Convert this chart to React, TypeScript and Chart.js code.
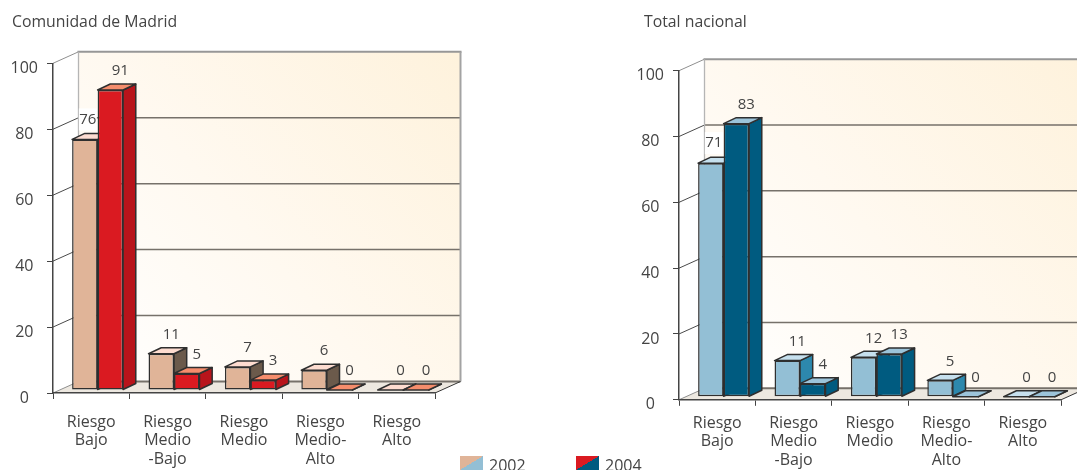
import React, { useEffect, useRef } from "react";
import { Chart, registerables } from "chart.js";

Chart.register(...registerables);

const FONT = '"Open Sans", sans-serif';
const TEXT = "#444444";

const categories = [
  ["Riesgo", "Bajo"],
  ["Riesgo", "Medio", "-Bajo"],
  ["Riesgo", "Medio"],
  ["Riesgo", "Medio-", "Alto"],
  ["Riesgo", "Alto"],
];
const yTicks = [0, 20, 40, 60, 80, 100];
const seriesNames = ["2002", "2004"];

const madrid2002 = [76, 11, 7, 6, 0];
const madrid2004 = [91, 5, 3, 0, 0];
const nacional2002 = [71, 11, 12, 5, 0];
const nacional2004 = [83, 4, 13, 0, 0];

const madridTitle = "Comunidad de Madrid";
const nacionalTitle = "Total nacional";

const madridFaces = [
  { front: "#e0b498", top: "#fddcd0", side: "#6b5a4b" },
  { front: "#da1a21", top: "#f58d6c", side: "#b8141b" },
];
const nacionalFaces = [
  { front: "#93bfd5", top: "#c6e0ee", side: "#2d88ad" },
  { front: "#005b80", top: "#9cc4da", side: "#005b80" },
];

// geometry of the fake 3D
const WALL_DX = 25.5;
const WALL_DY = 11.5;
const BAR_SHIFT_X = 6.4;
const BAR_SHIFT_Y = 3;
const BAR_DX = 12.7;
const BAR_DY = 6;
const EDGE = "#2f2f2f";
const EDGE_W = 1.5;

function poly(ctx: CanvasRenderingContext2D, pts: number[][]) {
  ctx.beginPath();
  pts.forEach((p, i) => (i ? ctx.lineTo(p[0], p[1]) : ctx.moveTo(p[0], p[1])));
  ctx.closePath();
}
function line(ctx: CanvasRenderingContext2D, x0: number, y0: number, x1: number, y1: number, color: string, w: number) {
  ctx.strokeStyle = color;
  ctx.lineWidth = w;
  ctx.beginPath();
  ctx.moveTo(x0, y0);
  ctx.lineTo(x1, y1);
  ctx.stroke();
}

function drawFaces(ctx: CanvasRenderingContext2D, meta: any, faces: any) {
  meta.data.forEach((el: any) => {
    const { x, y, base, width } = el.getProps(["x", "y", "base", "width"]);
    const x0 = x - width / 2;
    const x1 = x + width / 2;
    ctx.lineWidth = EDGE_W;
    ctx.strokeStyle = EDGE;
    ctx.lineJoin = "round";
    poly(ctx, [
      [x1, y],
      [x1 + BAR_DX, y - BAR_DY],
      [x1 + BAR_DX, base - BAR_DY],
      [x1, base],
    ]);
    ctx.fillStyle = faces.side;
    ctx.fill();
    ctx.stroke();
    poly(ctx, [
      [x0, y],
      [x0 + BAR_DX, y - BAR_DY],
      [x1 + BAR_DX, y - BAR_DY],
      [x1, y],
    ]);
    ctx.fillStyle = faces.top;
    ctx.fill();
    ctx.stroke();
  });
}

function drawLabels(ctx: CanvasRenderingContext2D, meta: any, values: number[], partner: number[], first: boolean) {
  ctx.font = `15px ${FONT}`;
  ctx.textAlign = "center";
  ctx.textBaseline = "middle";
  meta.data.forEach((el: any, i: number) => {
    const { x, y } = el.getProps(["x", "y"]);
    const hidden = first && partner[i] - values[i] >= 10;
    const lx = x + (hidden ? 3 : 10);
    const ly = y - (hidden ? 20 : 19);
    if (hidden) {
      ctx.fillStyle = "#ffffff";
      ctx.fillRect(lx - 9, ly - 11, 18, 22);
    }
    ctx.fillStyle = TEXT;
    ctx.fillText(String(values[i]), lx, ly);
  });
}

const box3d = {
  id: "box3d",
  beforeDraw(chart: any) {
    const { ctx, chartArea: a, scales } = chart;
    const y = scales.y;
    const top = y.getPixelForValue(100);
    const bottom = y.getPixelForValue(0);
    const bx = a.left + WALL_DX;
    const rx = a.right + WALL_DX;
    ctx.save();
    // back wall
    const g = ctx.createLinearGradient(bx, bottom - WALL_DY, rx, top - WALL_DY);
    g.addColorStop(0, "#ffffff");
    g.addColorStop(0.45, "#fff9f0");
    g.addColorStop(1, "#fef2dc");
    ctx.fillStyle = g;
    ctx.fillRect(bx, top - WALL_DY, rx - bx, bottom - top);
    // floor
    poly(ctx, [
      [a.left, bottom],
      [a.right, bottom],
      [rx, bottom - WALL_DY],
      [bx, bottom - WALL_DY],
    ]);
    ctx.fillStyle = "#ede8e0";
    ctx.fill();
    // grid on the side wall and the back wall
    yTicks.forEach((t) => {
      const py = y.getPixelForValue(t);
      const strong = t === 0 || t === 100;
      line(ctx, a.left, py, bx, py - WALL_DY, strong ? "#8f8f8f" : "#4a4a4a", 1);
      if (t !== 100) line(ctx, bx, py - WALL_DY, rx, py - WALL_DY, "#76716a", t === 0 ? 2 : 1.5);
    });
    line(ctx, bx - 1, top - WALL_DY, rx + 1, top - WALL_DY, "#979797", 2);
    line(ctx, bx, top - WALL_DY, bx, bottom - WALL_DY, "#b5b5b5", 1.3);
    line(ctx, rx, top - WALL_DY, rx, bottom - WALL_DY, "#a3a3a3", 2);
    line(ctx, a.right, bottom, rx, bottom - WALL_DY, "#333333", 1);
    ctx.restore();
  },
  // The left series has to be painted first so that the right one covers its side face.
  beforeDatasetsDraw(chart: any) {
    const { ctx, data } = chart;
    const allFaces = chart.options.plugins.box3d.faces;
    chart.getSortedVisibleDatasetMetas().forEach((meta: any) => {
      ctx.save();
      ctx.translate(BAR_SHIFT_X, -BAR_SHIFT_Y);
      drawFaces(ctx, meta, allFaces[meta.index]);
      meta.controller.draw();
      drawLabels(ctx, meta, data.datasets[meta.index].data, data.datasets[1 - meta.index].data, meta.index === 0);
      ctx.restore();
    });
    return false;
  },
};

type PanelProps = {
  left: number;
  width: number;
  axisX: number;
  axisRight: number;
  top: number;
  bottom: number;
  labelPad: number;
  a: number[];
  b: number[];
  faces: typeof madridFaces;
};

function Panel({ left, width, axisX, axisRight, top, bottom, labelPad, a, b, faces }: PanelProps) {
  const ref = useRef<HTMLCanvasElement>(null);
  useEffect(() => {
    const H = 470;
    const axisColor = "#444444";
    const chart = new Chart(ref.current as HTMLCanvasElement, {
      type: "bar",
      plugins: [box3d],
      data: {
        labels: categories,
        datasets: [
          { label: seriesNames[0], data: a, backgroundColor: faces[0].front, borderColor: EDGE, borderWidth: EDGE_W, borderSkipped: false },
          { label: seriesNames[1], data: b, backgroundColor: faces[1].front, borderColor: EDGE, borderWidth: EDGE_W, borderSkipped: false },
        ] as any,
      },
      options: {
        responsive: false,
        animation: false,
        devicePixelRatio: 1,
        layout: { padding: { left: 0, top, right: width - axisRight, bottom: 0 } },
        datasets: { bar: { categoryPercentage: 0.667, barPercentage: 1 } },
        plugins: {
          legend: { display: false },
          title: { display: false },
          tooltip: { enabled: false },
          box3d: { faces },
        } as any,
        scales: {
          x: {
            afterFit: (s: any) => {
              s.height = H - bottom;
            },
            border: { color: axisColor, width: 1.5 },
            grid: { offset: true, drawOnChartArea: false, color: axisColor, tickLength: 6, lineWidth: 1 },
            ticks: {
              color: TEXT,
              autoSkip: false,
              maxRotation: 0,
              minRotation: 0,
              padding: labelPad,
              font: { family: FONT, size: 16, lineHeight: "18.5px" },
            },
          },
          y: {
            min: 0,
            max: 100,
            afterFit: (s: any) => {
              s.width = axisX;
            },
            afterBuildTicks: (s: any) => {
              s.ticks = yTicks.map((value) => ({ value }));
            },
            border: { color: axisColor, width: 1.5 },
            grid: { drawOnChartArea: false, color: axisColor, tickLength: 6, lineWidth: 1 },
            ticks: {
              color: TEXT,
              padding: 9,
              crossAlign: "center",
              font: { family: FONT, size: 16, lineHeight: "10px" },
              callback: (v: any) => ["", String(v)],
            },
          },
        },
      } as any,
    });
    return () => chart.destroy();
  }, []);
  return <canvas ref={ref} width={width} height={470} style={{ position: "absolute", left, top: 0, width, height: 470, display: "block" }} />;
}

const textStyle: React.CSSProperties = { position: "absolute", fontFamily: FONT, color: TEXT, whiteSpace: "nowrap" };
const swatch = (c0: string, c1: string): React.CSSProperties => ({
  position: "absolute",
  top: 456,
  width: 23,
  height: 14,
  background: `linear-gradient(to bottom right, ${c0} 50%, ${c1} 50%)`,
});

export default function App() {
  return (
    <div style={{ position: "absolute", left: 0, top: 0, width: 1077, height: 470, overflow: "hidden", background: "#fff" }}>
      <Panel left={0} width={538} axisX={53} axisRight={435} top={63.3} bottom={393} labelPad={14} a={madrid2002} b={madrid2004} faces={madridFaces} />
      <Panel left={538} width={539} axisX={141} axisRight={523} top={70.7} bottom={399.8} labelPad={8} a={nacional2002} b={nacional2004} faces={nacionalFaces} />
      <div style={{ ...textStyle, left: 12, top: 11, fontSize: 15.8, lineHeight: "20px" }}>{madridTitle}</div>
      <div style={{ ...textStyle, left: 644, top: 11, fontSize: 15.8, lineHeight: "20px" }}>{nacionalTitle}</div>
      <div style={{ ...swatch(madridFaces[0].front, nacionalFaces[0].front), left: 460 }} />
      <div style={{ ...textStyle, left: 489, top: 453, fontSize: 16, lineHeight: "24px" }}>{seriesNames[0]}</div>
      <div style={{ ...swatch(madridFaces[1].front, nacionalFaces[1].front), left: 576 }} />
      <div style={{ ...textStyle, left: 605, top: 453, fontSize: 16, lineHeight: "24px" }}>{seriesNames[1]}</div>
    </div>
  );
}
